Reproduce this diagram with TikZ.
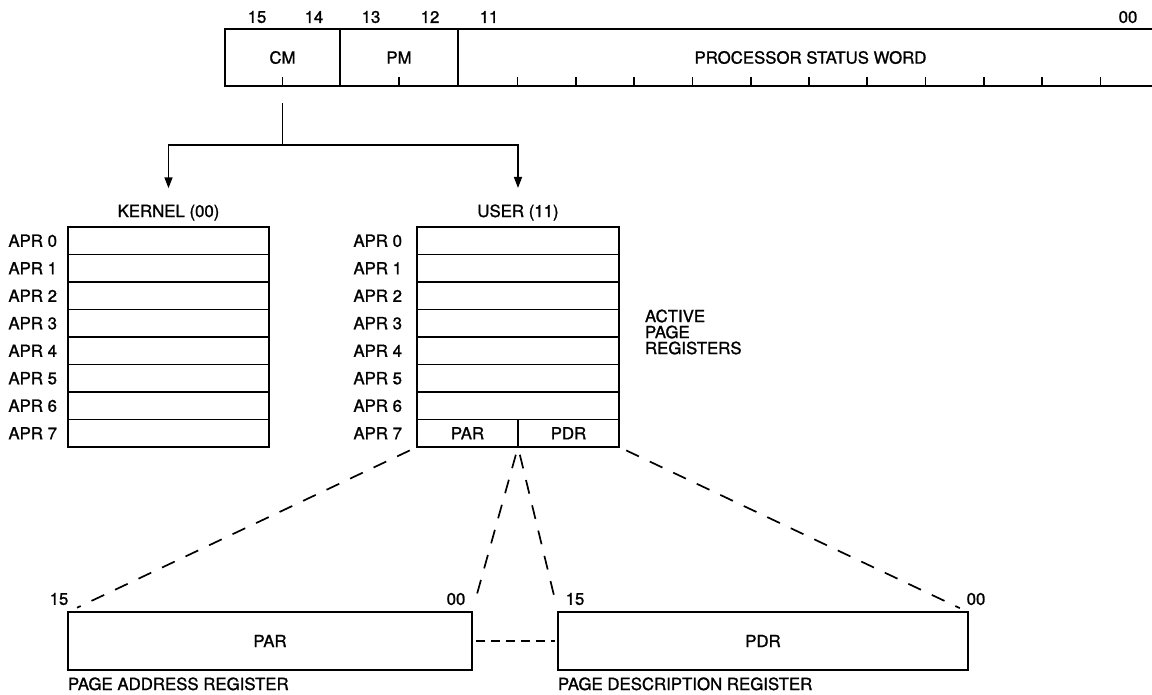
\documentclass[tikz,border=0pt]{standalone}
\usepackage{fontspec}
\setmainfont{TeX Gyre Heros}[FakeBold=1.2]
\usetikzlibrary{arrows.meta}
\begin{document}
\begin{tikzpicture}[x=1pt,y=-1pt,
  lbl/.style={font=\fontsize{16.8}{14}\selectfont, inner sep=0pt, outer sep=0pt},
  field/.style={draw, line width=1.9pt, minimum height=57pt, inner sep=0pt, outer sep=0pt, anchor=north west, font=\fontsize{16.8}{14}\selectfont},
  regrow/.style={draw, line width=1.5pt, minimum height=27.5pt, inner sep=0pt, outer sep=0pt, anchor=north west, font=\fontsize{16.8}{14}\selectfont},
  frame/.style={draw, line width=2pt},
  tickmark/.style={line width=1.7pt},
  conn/.style={line width=1.6pt},
  arr/.style={line width=1.6pt, -{Triangle[length=11pt,width=8pt]}},
  dashline/.style={line width=1.7pt, dash pattern=on 14pt off 12pt},
  shortdash/.style={line width=1.7pt, dash pattern=on 9pt off 6pt},
  bigbox/.style={draw, line width=2pt, minimum height=58pt, inner sep=0pt, outer sep=0pt, anchor=north west, font=\fontsize{16.8}{14}\selectfont}
]
\clip (0,0) rectangle (1152,694);
\fill[white] (0,0) rectangle (1152,694);

% processor status word
\node[field, minimum width=115pt] (cm) at (225,29) {CM};
\node[field, minimum width=118pt] (pm) at (cm.north east) {PM};
\node[field, minimum width=705pt] (psw) at (pm.north east) {PROCESSOR STATUS WORD};
\draw[tickmark] (cm.south) -- ++(0,-9);
\draw[tickmark] (pm.south) -- ++(0,-9);
\foreach \k in {0,...,10} \draw[tickmark] (517.5+58.3*\k,86) -- ++(0,-9);

\node[lbl] (b15) at (257,17) {15};
\node[lbl] (b14) at (314,17) {14};
\node[lbl] (b13) at (371,17) {13};
\node[lbl] (b12) at (430,17) {12};
\node[lbl] (b11) at (489,17) {11};
\node[lbl] (b00) at (1128,17) {00};

% mode selection
\coordinate (j) at ([yshift=-59pt]cm.south);
\draw[conn] ([yshift=-17pt]cm.south) -- (j);
\node[lbl, anchor=base] (klab) at (168.5,217) {KERNEL (00)};
\node[lbl, anchor=base] (ulab) at (518,217) {USER (11)};
\draw[arr, shorten >=16.5pt] (j) -| (klab);
\draw[arr, shorten >=16.5pt] (j) -| (ulab);

% kernel registers
\foreach \i in {0,...,7} {
  \node[regrow, minimum width=201pt] (k\i) at (68,227+27.5*\i) {};
  \node[lbl, anchor=east] (kl\i) at ([xshift=-11pt]k\i.west) {APR \i};
}
\draw[frame] (k0.north west) rectangle (k7.south east);

% user registers
\foreach \i in {0,...,6} {
  \node[regrow, minimum width=202pt] (u\i) at (417,227+27.5*\i) {};
  \node[lbl, anchor=east] (ul\i) at ([xshift=-15pt]u\i.west) {APR \i};
}
\node[regrow, minimum width=101pt] (upar) at (417,419.5) {PAR};
\node[regrow, minimum width=101pt] (updr) at (upar.north east) {PDR};
\node[lbl, anchor=east] (ul7) at ([xshift=-15pt]upar.west) {APR 7};
\draw[frame] (u0.north west) rectangle (updr.south east);

\node[lbl, font=\fontsize{16.8}{16}\selectfont, align=left, anchor=west] (apr) at (645,332) {ACTIVE\\PAGE\\REGISTERS};

% PAR and PDR
\node[bigbox, minimum width=404pt] (par) at (68,612) {PAR};
\node[bigbox, minimum width=410pt] (pdr) at (558,612) {PDR};
\node[lbl, anchor=base west] (parcap) at ([yshift=-20pt]par.south west) {PAGE ADDRESS REGISTER};
\node[lbl, anchor=base west] (pdrcap) at ([yshift=-20pt]pdr.south west) {PAGE DESCRIPTION REGISTER};
\node[lbl] (p15) at (59,599) {15};
\node[lbl] (p00) at (456,599) {00};
\node[lbl] (d15) at (575,599) {15};
\node[lbl] (d00) at (976,599) {00};

\draw[dashline, shorten <=8pt, shorten >=10pt] (upar.south west) -- (par.north west);
\draw[dashline, shorten <=8pt, shorten >=9pt] (upar.south east) -- (par.north east);
\draw[dashline, shorten <=8pt, shorten >=9pt] (upar.south east) -- (pdr.north west);
\draw[dashline, shorten <=8pt, shorten >=9pt] (updr.south east) -- (pdr.north east);
\draw[shortdash, shorten <=4pt, shorten >=3pt] (par.east) -- (pdr.west);
\end{tikzpicture}
\end{document}
